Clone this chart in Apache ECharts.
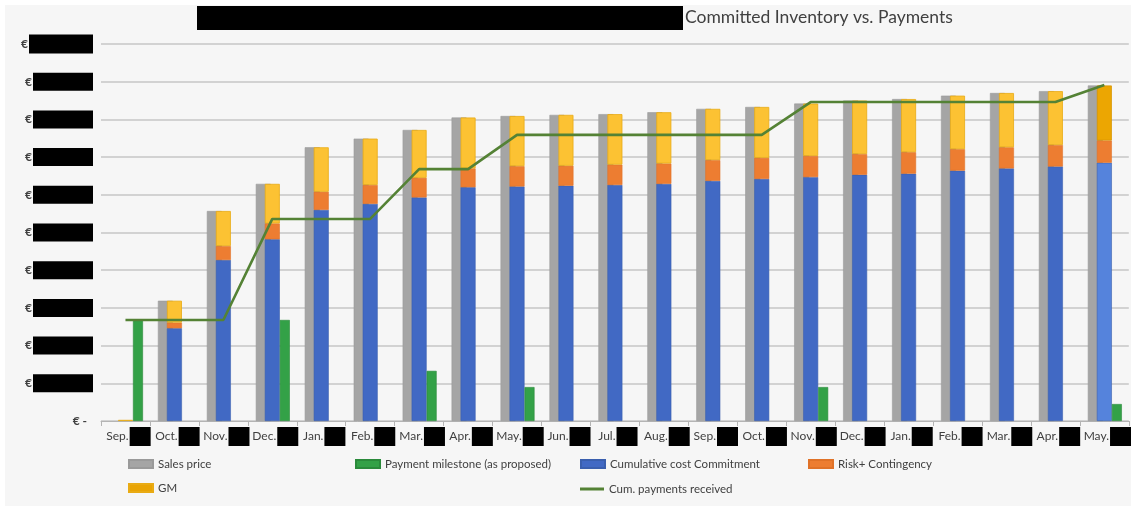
<!DOCTYPE html>
<html>
<head>
<meta charset="utf-8">
<script src="https://cdn.jsdelivr.net/npm/echarts@6/dist/echarts.min.js"></script>
<style>
html,body{margin:0;padding:0;background:#ffffff;}
#bg{position:absolute;left:5px;top:5px;width:1126px;height:501px;background:#f6f6f6;}
#c{position:absolute;left:0;top:0;width:1134px;height:506px;}
</style>
</head>
<body>
<div id="bg"></div>
<div id="c"></div>
<script>
// ---- data ----
const months = ['Sep.','Oct.','Nov.','Dec.','Jan.','Feb.','Mar.','Apr.','May.','Jun.','Jul.','Aug.','Sep.','Oct.','Nov.','Dec.','Jan.','Feb.','Mar.','Apr.','May.'];
const salesPrice = [0, 3.19, 5.57, 6.29, 7.26, 7.49, 7.72, 8.05, 8.09, 8.12, 8.14, 8.19, 8.28, 8.33, 8.42, 8.50, 8.54, 8.63, 8.70, 8.75, 8.90];
const costCommitment = [0, 2.46, 4.27, 4.82, 5.60, 5.76, 5.93, 6.20, 6.22, 6.24, 6.26, 6.29, 6.37, 6.42, 6.47, 6.53, 6.56, 6.64, 6.70, 6.75, 6.85];
const riskContingency = [0, 0.15, 0.37, 0.42, 0.48, 0.50, 0.52, 0.50, 0.54, 0.53, 0.54, 0.54, 0.55, 0.56, 0.56, 0.55, 0.57, 0.57, 0.56, 0.57, 0.59];
const gm = [0.03, 0.58, 0.93, 1.05, 1.18, 1.23, 1.27, 1.35, 1.33, 1.35, 1.34, 1.36, 1.36, 1.35, 1.39, 1.42, 1.41, 1.42, 1.44, 1.43, 1.46];
const paymentMilestone = [2.68, 0, 0, 2.68, 0, 0, 1.33, 0, 0.90, 0, 0, 0, 0, 0, 0.90, 0, 0, 0, 0, 0, 0.45];
const cumPayments = [2.68, 2.68, 2.68, 5.36, 5.36, 5.36, 6.68, 6.68, 7.59, 7.59, 7.59, 7.59, 7.59, 7.59, 8.46, 8.46, 8.46, 8.46, 8.46, 8.46, 8.91];
const yTicks = [0,1,2,3,4,5,6,7,8,9,10];
const titleText = 'Committed Inventory vs. Payments';
const names = {
  sales: 'Sales price',
  milestone: 'Payment milestone (as proposed)',
  cost: 'Cumulative cost Commitment',
  risk: 'Risk+ Contingency',
  gm: 'GM',
  cum: 'Cum. payments received'
};

const FONT = 'Lato, "Open Sans", sans-serif';
const TXT = '#404040';
const last = months.length - 1;
const zeros = months.map(() => '-');
const hideZero = arr => arr.map(v => v === 0 ? '-' : v);

const chart = echarts.init(document.getElementById('c'), null, {renderer: 'canvas'});

const legendBase = {
  itemWidth: 24, itemHeight: 8, itemGap: 10, padding: 0,
  textStyle: {fontFamily: FONT, fontSize: 11.5, color: TXT},
  icon: 'rect', selectedMode: false
};

const option = {
  backgroundColor: 'transparent',
  animation: false,
  title: {
    left: 197, top: 6, padding: 0,
    text: '{b|}{t|' + titleText + '}',
    textStyle: {
      fontWeight: 'normal',
      rich: {
        b: {width: 486, height: 24, backgroundColor: '#000'},
        t: {fontFamily: FONT, fontSize: 17.5, fontWeight: 'normal', color: TXT, padding: [0, 0, 2, 2], lineHeight: 24}
      }
    }
  },
  legend: [
    Object.assign({}, legendBase, {left: 128, top: 458, data: [{name: names.sales}]}),
    Object.assign({}, legendBase, {left: 355, top: 458, data: [{name: names.milestone}]}),
    Object.assign({}, legendBase, {left: 580, top: 458, data: [{name: names.cost}]}),
    Object.assign({}, legendBase, {left: 808, top: 458, data: [{name: names.risk}]}),
    Object.assign({}, legendBase, {left: 128, top: 482, data: [{name: names.gm, itemStyle: {color: '#e9a404'}}]}),
    Object.assign({}, legendBase, {left: 580, top: 483, itemHeight: 3, data: [{name: names.cum, icon: 'rect', itemStyle: {color: '#548235'}}]})
  ],
  grid: {left: 101, right: 4, top: 44, bottom: 85},
  xAxis: [
    {
      type: 'category', data: months, boundaryGap: true,
      axisLine: {lineStyle: {color: '#b4b4b4', width: 1}},
      axisTick: {show: true, length: 5, lineStyle: {color: '#b4b4b4'}},
      axisLabel: {
        margin: 6, interval: 0,
        formatter: v => '{m|' + v + '}{b|}',
        rich: {
          m: {fontFamily: FONT, fontSize: 12, color: TXT, padding: [0, 1, 0, 6]},
          b: {width: 21, height: 19, backgroundColor: '#000'}
        }
      }
    },
    {type: 'category', data: months, show: false},
    {type: 'category', data: months, show: false}
  ],
  yAxis: {
    type: 'value', min: 0, max: 10, interval: 1,
    axisLine: {show: false}, axisTick: {show: false},
    splitLine: {lineStyle: {color: '#c6c6c6', width: 1.5}},
    axisLabel: {
      margin: 8,
      formatter: v => v === 0 ? '{z|€ -}' : (v === yTicks[yTicks.length - 1] ? '{e|€}{bb|}' : '{e|€}{b|}'),
      rich: {
        e: {fontFamily: FONT, fontSize: 12, color: TXT, fontWeight: 'bold', padding: [0, 1, 0, 0]},
        z: {fontFamily: FONT, fontSize: 12, color: TXT, fontWeight: 'bold', padding: [0, 6, 0, 0]},
        b: {width: 60, height: 18, backgroundColor: '#000'},
        bb: {width: 64, height: 19, backgroundColor: '#000'}
      }
    }
  },
  series: [
    {
      name: names.sales, type: 'bar', xAxisIndex: 0, barWidth: 15, barGap: '0%',
      data: hideZero(salesPrice),
      itemStyle: {color: '#a5a5a5', borderColor: '#9a9a9a', borderWidth: 0.6}
    },
    {
      name: '_spacerA', type: 'bar', xAxisIndex: 0, barWidth: 18, barGap: '0%',
      data: zeros, silent: true, itemStyle: {color: 'rgba(0,0,0,0)'}
    },
    {
      name: names.cost, type: 'bar', xAxisIndex: 1, stack: 'inv', barWidth: 15, barGap: '0%',
      data: hideZero(costCommitment).map((v, i) => i === last ? {value: v, itemStyle: {color: '#5583dc'}} : v),
      itemStyle: {color: '#4169c4', borderColor: '#3a5fae', borderWidth: 0.6}
    },
    {
      name: names.risk, type: 'bar', xAxisIndex: 1, stack: 'inv', barWidth: 15,
      data: hideZero(riskContingency),
      itemStyle: {color: '#ed7d31', borderColor: '#e07228', borderWidth: 0.6}
    },
    {
      name: names.gm, type: 'bar', xAxisIndex: 1, stack: 'inv', barWidth: 15,
      data: gm.map((v, i) => i === last ? {value: v, itemStyle: {color: '#eca602', borderColor: '#d89600'}} : v),
      itemStyle: {color: '#fcc233', borderColor: '#e9ab14', borderWidth: 0.8}
    },
    {
      name: '_spacerC', type: 'bar', xAxisIndex: 2, barWidth: 25, barGap: '0%',
      data: zeros, silent: true, itemStyle: {color: 'rgba(0,0,0,0)'}
    },
    {
      name: names.milestone, type: 'bar', xAxisIndex: 2, barWidth: 10, barGap: '0%',
      data: hideZero(paymentMilestone),
      itemStyle: {color: '#33a147', borderColor: '#2a8a3b', borderWidth: 0.6}
    },
    {
      name: names.cum, type: 'line', xAxisIndex: 0, z: 10,
      data: cumPayments, symbol: 'none', smooth: false,
      lineStyle: {color: '#548235', width: 2.6},
      itemStyle: {color: '#548235'}
    }
  ]
};
chart.setOption(option);
</script>
</body>
</html>
